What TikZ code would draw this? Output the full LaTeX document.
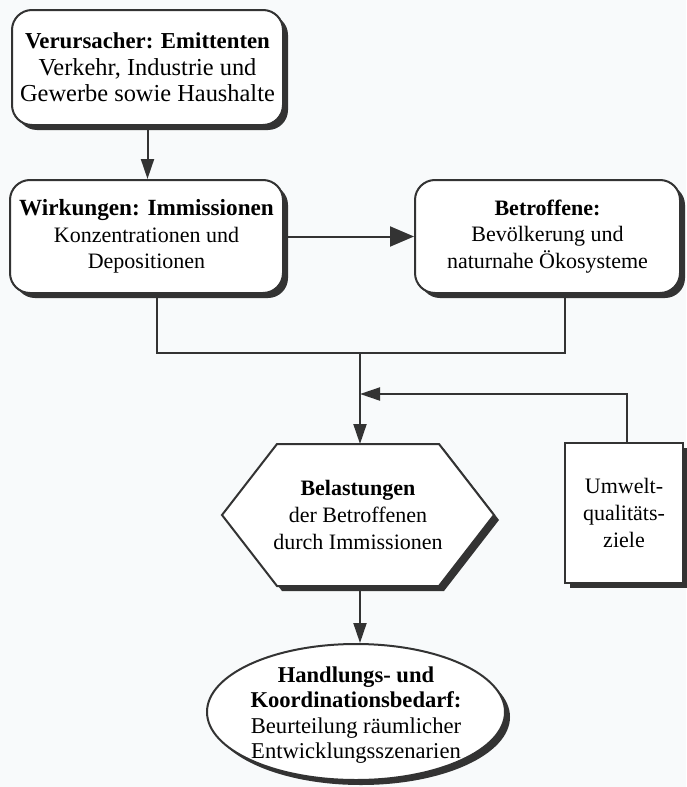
\documentclass[tikz,border=0pt]{standalone}
\usepackage{fontspec}
\setmainfont{Liberation Serif}
\usetikzlibrary{arrows.meta,shadows,shapes.geometric}

\definecolor{paper}{RGB}{248,250,251}

\begin{document}
\begin{tikzpicture}[
		x=0.5pt, y=0.5pt,
		line width=1pt,
		boxshadow/.style={drop shadow={shadow xshift=2.5pt, shadow yshift=-2.5pt, fill=black!80, opacity=1}},
		rbox/.style={draw=black!80, fill=white, rounded corners=10pt, boxshadow, align=center, inner sep=0pt,
			font=\fontsize{11}{13.3}\selectfont},
		sbox/.style={draw=black!80, fill=white, boxshadow, align=center, inner sep=0pt,
			font=\fontsize{11}{13.3}\selectfont},
		label/.style={align=center, inner sep=0pt, font=\fontsize{11}{13.3}\selectfont},
		line/.style={draw=black!80},
		arr/.style={line, -{Triangle[length=10pt, width=6.5pt]}},
		bigarr/.style={line, -{Triangle[length=12pt, width=10pt]}}
		]
		\fill[paper] (0,0) rectangle (686,-787);
		\useasboundingbox (0,0) rectangle (686,-787);
		\node[rbox, minimum width=135.5pt, minimum height=57.5pt, font=\fontsize{12.2}{13.3}\selectfont]
			(verursacher) at (147.5,-67.5)
			{{\fontsize{11.4}{13.3}\selectfont\textbf{Verursacher: Emittenten}}\\Verkehr, Industrie und\\Gewerbe sowie Haushalte};
		\node[rbox, minimum width=136.5pt, minimum height=56.5pt] (wirkungen) at (146.5,-236.5)
			{{\fontsize{11.6}{13.3}\selectfont\textbf{Wirkungen: Immissionen}}\\Konzentrationen und\\Depositionen};
		\node[rbox, minimum width=132.5pt, minimum height=56.5pt] (betroffene) at (547.5,-236.5)
			{\textbf{Betroffene:}\\Bevölkerung und\\naturnahe Ökosysteme};
		\node[minimum width=135pt, minimum height=70pt, inner sep=0pt] (hex) at (358,-515) {};
		\draw[line, fill=white, boxshadow] (hex.west) -- ([xshift=27.5pt]hex.north west)
			-- ([xshift=-27.5pt]hex.north east) -- (hex.east)
			-- ([xshift=-27.5pt]hex.south east) -- ([xshift=27.5pt]hex.south west) -- cycle;
		\node[label] (hextext) at (hex) {\textbf{Belastungen}\\der Betroffenen\\durch Immissionen};
		\node[sbox, minimum width=59pt, minimum height=70pt] (umwelt) at (624,-513)
			{Umwelt-\\qualitäts-\\ziele};
		\node[ellipse, draw=black!80, fill=white, boxshadow, minimum width=149pt, minimum height=68pt,
			inner sep=0pt] (handlung) at (356,-712) {};
		\node[label, font=\fontsize{11.3}{12.8}\selectfont] (handlungtext) at ([yshift=-1.5pt]handlung.center)
			{\textbf{Handlungs- und}\\\textbf{Koordinationsbedarf:}\\Beurteilung räumlicher\\Entwicklungsszenarien};
		\coordinate (join) at (360,-353);
		\coordinate (merge) at (360,-394);
		\draw[arr] (verursacher.south) -- (verursacher.south |- wirkungen.north);
		\draw[bigarr] (wirkungen.east) -- (betroffene.west);
		\draw[line] ([xshift=5pt]wirkungen.south) |- (join) -| ([xshift=8.75pt]betroffene.south);
		\draw[arr] (join) -- (join |- hex.north);
		\draw[arr] ([xshift=1.5pt]umwelt.north) |- (merge);
		\draw[arr] (hex.south -| join) -- (join |- handlung.north);
\end{tikzpicture}
\end{document}
